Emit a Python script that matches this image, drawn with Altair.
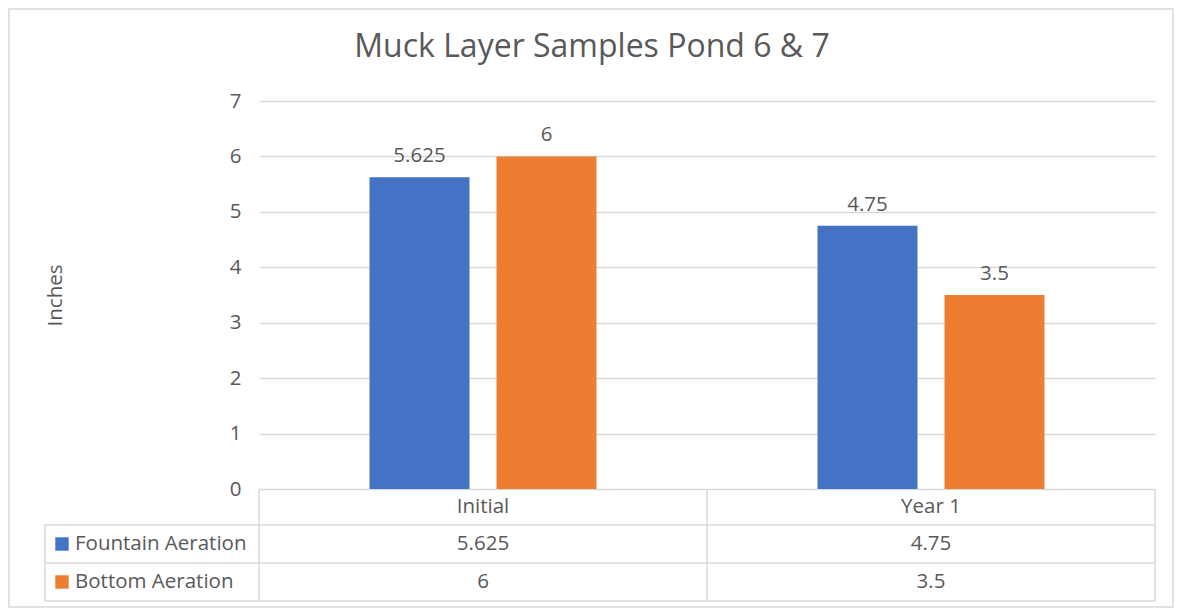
import altair as alt
import pandas as pd

TITLE = "Muck Layer Samples Pond 6 & 7"
CATEGORIES = ["Initial", "Year 1"]
SERIES = ["Fountain Aeration", "Bottom Aeration"]
FOUNTAIN = [5.625, 4.75]
BOTTOM = [6, 3.5]
COLORS = ["#4472C4", "#ED7D31"]
Y_TITLE = "Inches"

rows = []
for s, vals in zip(SERIES, [FOUNTAIN, BOTTOM]):
    for c, v in zip(CATEGORIES, vals):
        rows.append({"category": c, "series": s, "value": v, "label": f"{v:g}"})
df = pd.DataFrame(rows)
legend_df = pd.DataFrame({"series": SERIES})

FONT = "Open Sans"
TXT = "#595959"
GRID = "#D9D9D9"
FS = 20.5

W, H = 896, 388
color_scale = alt.Scale(domain=SERIES, range=COLORS)
x_enc = alt.X("category:N", sort=CATEGORIES, axis=None,
              scale=alt.Scale(paddingInner=0, paddingOuter=0))
xoff = alt.XOffset("series:N", sort=SERIES,
                   scale=alt.Scale(paddingInner=0.2126, paddingOuter=0.87))

base = alt.Chart(df)

bars = base.mark_bar().encode(
    x=x_enc,
    xOffset=xoff,
    y=alt.Y("value:Q", scale=alt.Scale(domain=[0, 7], nice=False),
            axis=alt.Axis(values=list(range(0, 8)), format="d", grid=True,
                          gridColor=GRID, gridWidth=1.3,
                          domain=False, ticks=False, labelFontSize=FS,
                          labelColor=TXT, labelFont=FONT, labelPadding=18,
                          title=Y_TITLE, titleFontSize=FS, titleFont=FONT,
                          titleFontWeight="normal", titleColor=TXT,
                          titleX=-204, titleY=194, titleAlign="center",
                          titleBaseline="middle", titleAngle=-90)),
    color=alt.Color("series:N", scale=color_scale, legend=None),
)

bar_labels = base.mark_text(fontSize=FS, font=FONT, color=TXT,
                            baseline="alphabetic", dy=-15).encode(
    x=alt.X("category:N", sort=CATEGORIES),
    xOffset=alt.XOffset("series:N", sort=SERIES),
    y="value:Q",
    text="label:N",
)

dummy = alt.Data(values=[{"a": 1}])


def rule(x1, x2, y1, y2):
    return alt.Chart(dummy).mark_rule(color=GRID, strokeWidth=1.5).encode(
        x=alt.value(x1), x2=alt.value(x2), y=alt.value(y1), y2=alt.value(y2))


# data-table grid
LEFT = -214
lines = [
    rule(LEFT, W, 424, 424),
    rule(LEFT, W, 462, 462),
    rule(LEFT, W, 500, 500),
    rule(LEFT, LEFT, 424, 500),
    rule(0, 0, 388, 500),
    rule(448, 448, 388, 500),
    rule(W, W, 388, 500),
]

border = alt.Chart(dummy).mark_rect(fill=None, stroke=GRID, strokeWidth=1.5).encode(
    x=alt.value(-250), x2=alt.value(914), y=alt.value(-92), y2=alt.value(506))

header = alt.Chart(pd.DataFrame({"category": CATEGORIES})).mark_text(
    fontSize=FS, font=FONT, color=TXT).encode(
    x=alt.X("category:N", sort=CATEGORIES), y=alt.value(406), text="category:N")

row_y = [443, 481]
cells = [
    base.transform_filter(alt.datum.series == s).mark_text(
        fontSize=FS, font=FONT, color=TXT).encode(
        x=alt.X("category:N", sort=CATEGORIES), y=alt.value(yy), text="label:N")
    for s, yy in zip(SERIES, row_y)
]

legend_sq = [
    alt.Chart(legend_df).transform_filter(alt.datum.series == s).mark_square(
        size=180, opacity=1).encode(
        x=alt.value(-197), y=alt.value(yy),
        color=alt.Color("series:N", scale=color_scale, legend=None))
    for s, yy in zip(SERIES, row_y)
]
legend_txt = [
    alt.Chart(legend_df).transform_filter(alt.datum.series == s).mark_text(
        fontSize=FS, font=FONT, color=TXT, align="left").encode(
        x=alt.value(-184), y=alt.value(yy), text="series:N")
    for s, yy in zip(SERIES, row_y)
]

title = alt.Chart(pd.DataFrame({"t": [TITLE]})).mark_text(
    fontSize=32, font=FONT, color=TXT).encode(
    x=alt.value(333), y=alt.value(-54), text="t:N")

chart = alt.layer(
    border, bars, bar_labels, *lines, header, *cells, *legend_sq, *legend_txt, title
).properties(
    width=W, height=H,
    autosize=alt.AutoSizeParams(type="none"),
    padding={"left": 251, "top": 93, "right": 19, "bottom": 119},
).configure_view(stroke=None)

chart.save("out.html", embed_options={"renderer": "svg", "actions": False})
